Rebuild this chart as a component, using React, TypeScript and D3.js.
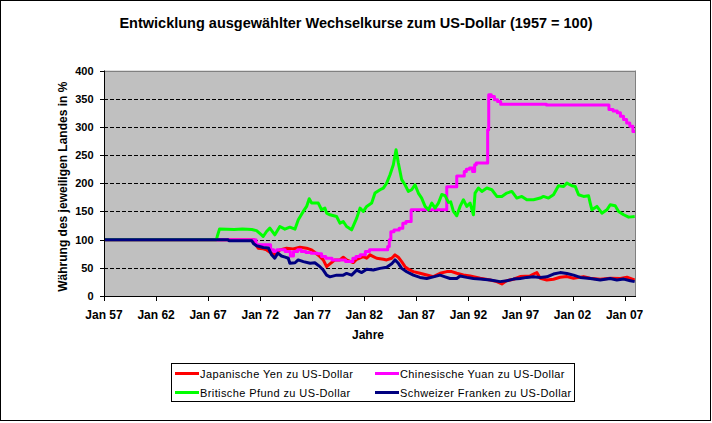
import React from "react";
import * as d3 from "d3";

const W = 712;
const H = 423;

const yTicks = [0, 50, 100, 150, 200, 250, 300, 350, 400];
const xTickYears = [1957, 1962, 1967, 1972, 1977, 1982, 1987, 1992, 1997, 2002, 2007];
const xTickLabels = ["Jan 57", "Jan 62", "Jan 67", "Jan 72", "Jan 77", "Jan 82", "Jan 87", "Jan 92", "Jan 97", "Jan 02", "Jan 07"];

const titleText = "Entwicklung ausgewählter Wechselkurse zum US-Dollar (1957 = 100)";
const xAxisTitle = "Jahre";
const yAxisTitle = "Währung des jeweiligen Landes in %";

const seriesNames = [
  "Japanische Yen zu US-Dollar",
  "Chinesische Yuan zu US-Dollar",
  "Britische Pfund zu US-Dollar",
  "Schweizer Franken zu US-Dollar",
];
const seriesColors = ["#FF0000", "#FF00FF", "#00FF00", "#000080"];

// [year, index value]
const yenData: [number, number][] = [
  [1957, 100], [1971.4, 100], [1971.5, 93.7], [1971.81, 84.8], [1972.29, 83.6], [1972.61, 81.8],
  [1973.09, 75.9], [1973.41, 72.9], [1973.89, 81.8], [1974.53, 84.8], [1975.17, 83.6], [1975.82, 86.6],
  [1976.46, 84.8], [1976.94, 81.8], [1977.26, 77.1], [1977.74, 69.9], [1978.06, 64], [1978.38, 52.1],
  [1978.7, 56.9], [1979.18, 64], [1979.66, 64], [1979.98, 68.8], [1980.3, 64], [1980.94, 59.3],
  [1981.27, 65.2], [1981.91, 69.9], [1982.23, 67], [1982.55, 72.9], [1982.87, 69.9], [1983.19, 67],
  [1983.83, 65.2], [1984.15, 64], [1984.63, 67], [1984.95, 72.9], [1985.27, 68.8], [1985.59, 61.1],
  [1985.91, 52.1], [1986.23, 47.5], [1986.71, 43.3], [1987.35, 40.3], [1988.0, 37.3], [1988.64, 34.4],
  [1989.28, 40.3], [1989.92, 43.3], [1990.4, 43.3], [1990.88, 40.3], [1991.52, 37.3], [1992.16, 35.6],
  [1993.13, 31.4], [1994.09, 28.5], [1994.73, 25.5], [1995.21, 21.4], [1995.69, 27.3], [1996.33, 29.7],
  [1996.97, 34.4], [1997.93, 35.6], [1998.41, 40.3], [1998.57, 41.5], [1998.9, 31.4], [1999.53, 28.5],
  [2000.17, 29.7], [2000.81, 33.2], [2001.46, 34.4], [2002.1, 31.4], [2003.06, 34.4], [2003.7, 31.4],
  [2004.66, 29.7], [2005.62, 31.4], [2006.59, 30.9], [2007.23, 33.2], [2007.97, 28.5],
];

const yuanData: [number, number][] = [
  [1957, 100], [1971.6, 91], [1973.0, 82], [1973.3, 79], [1973.6, 82], [1974.4, 79], [1974.9, 71],
  [1975.2, 79], [1975.6, 82], [1975.95, 79], [1976.4, 77], [1976.9, 76], [1977.5, 75], [1977.9, 70],
  [1978.3, 67], [1978.9, 64], [1980.2, 61], [1980.9, 67], [1981.2, 70], [1981.6, 73], [1982.1, 79],
  [1982.5, 82], [1984.25, 88], [1984.4, 100], [1984.55, 114], [1984.85, 117], [1985.35, 120],
  [1985.7, 129], [1986.0, 132], [1986.5, 153], [1989.92, 194], [1990.88, 213], [1991.6, 221],
  [1991.8, 225], [1992.1, 227], [1992.4, 221], [1992.6, 233], [1992.75, 236], [1993.85, 295],
  [1993.95, 357], [1994.2, 354], [1994.5, 348], [1994.8, 345], [1995.1, 340], [1999.5, 339],
  [2005.5, 331], [2005.9, 328], [2006.3, 325], [2006.6, 319], [2006.9, 313], [2007.2, 307],
  [2007.5, 301], [2007.8, 292], [2008.0, 292],
];

const poundData: [number, number][] = [
  [1957, 100], [1967.8, 100], [1967.88, 106], [1968.1, 119], [1969.5, 118], [1970.3, 119], [1971.2, 118],
  [1971.65, 116], [1972.13, 108.5], [1972.29, 105.5], [1972.61, 114.4], [1972.93, 120.4], [1973.41, 108.5],
  [1973.89, 123.3], [1974.37, 118.6], [1974.85, 122.1], [1975.34, 118.6], [1975.66, 135.2], [1976.14, 150],
  [1976.46, 158.9], [1976.71, 172.5], [1976.94, 164.8], [1977.58, 164.8], [1977.9, 153], [1978.22, 155.9],
  [1978.38, 147], [1978.7, 144], [1979.34, 141], [1979.66, 129.2], [1979.98, 132.2], [1980.3, 123.3],
  [1980.78, 117.4], [1981.27, 138.1], [1981.59, 155.9], [1981.91, 150], [1982.23, 158.9], [1982.71, 164.8],
  [1983.03, 182.6], [1983.51, 188.5], [1983.83, 191.5], [1984.15, 200.3], [1984.47, 215.2], [1984.79, 232.9],
  [1985.05, 259.6], [1985.27, 235.9], [1985.59, 206.3], [1985.91, 197.4], [1986.23, 185.5], [1986.55, 188.5],
  [1986.87, 197.4], [1987.19, 182.6], [1987.51, 173.7], [1987.84, 158.9], [1988.16, 152.9], [1988.48, 164.8],
  [1988.8, 155.9], [1989.12, 164.8], [1989.44, 180], [1989.76, 178], [1990.08, 166], [1990.3, 167],
  [1990.56, 150], [1990.88, 142.3], [1991.2, 158.9], [1991.52, 170.7], [1991.84, 158.9], [1992.16, 164.8],
  [1992.48, 144.1], [1992.64, 182.6], [1992.96, 191.5], [1993.29, 185.5], [1993.77, 191.5], [1994.25, 188.5],
  [1994.73, 176.6], [1995.21, 176.6], [1995.69, 182.6], [1996.17, 185.5], [1996.65, 173.7], [1997.13, 176.6],
  [1997.61, 170.7], [1998.25, 170.7], [1998.9, 173.7], [1999.21, 176.6], [1999.69, 173.7], [2000.17, 179.6],
  [2000.65, 195.6], [2001.14, 194.4], [2001.46, 200.3], [2001.94, 195.6], [2002.26, 194.4], [2002.58, 179.6],
  [2003.06, 176.6], [2003.54, 177.8], [2003.7, 164.8], [2003.86, 152.9], [2004.34, 158.9], [2004.82, 147],
  [2005.3, 152.9], [2005.62, 161.8], [2006.1, 160], [2006.42, 150], [2006.91, 144.1], [2007.39, 139.9],
  [2007.97, 141.1],
];

const francData: [number, number][] = [
  [1957, 100], [1968.9, 100], [1969.0, 98], [1971.2, 98], [1971.35, 93], [1971.65, 89], [1972.3, 86],
  [1972.8, 85], [1973.1, 73], [1973.4, 67], [1973.7, 76], [1974.05, 71], [1974.4, 69], [1974.7, 67],
  [1974.85, 58], [1975.35, 59], [1975.65, 64], [1976.15, 61], [1976.8, 58], [1977.25, 59], [1977.74, 52],
  [1978.06, 46], [1978.38, 37], [1978.7, 34], [1979.34, 37], [1979.98, 37], [1980.3, 40], [1980.78, 37],
  [1981.27, 46], [1981.75, 41.5], [1982.23, 47.5], [1982.87, 46], [1983.51, 49], [1984.15, 51],
  [1984.63, 57], [1984.95, 64], [1985.27, 58], [1985.59, 49], [1986.07, 43], [1986.71, 37], [1987.35, 33],
  [1988.0, 31], [1988.64, 34], [1989.28, 37], [1989.76, 34], [1990.24, 31], [1990.88, 31], [1991.2, 35.5],
  [1991.84, 33], [1992.48, 31], [1993.13, 30], [1994.09, 28.5], [1995.05, 25.5], [1995.69, 27],
  [1996.33, 30], [1996.97, 31], [1997.61, 33], [1998.25, 34], [1998.9, 33], [1999.54, 34], [2000.17, 39],
  [2000.81, 41.5], [2001.46, 40], [2002.1, 37], [2002.74, 33], [2003.7, 31], [2004.66, 28.5],
  [2005.62, 31], [2006.26, 28.5], [2006.91, 30], [2007.55, 27], [2007.97, 25.5],
];

const seriesData = [yenData, yuanData, poundData, francData];
const seriesStep = [false, true, false, false];

const PL = 104;
const PR = 635;
const PT = 70.5;
const PB = 296;

const FONT = "Arial, 'Liberation Sans', sans-serif";

export default function App() {
  const x = d3.scaleLinear().domain([1957, 2008]).range([PL, PR]);
  const y = d3.scaleLinear().domain([0, 400]).range([PB, PT]);

  const paths = seriesData.map((data, i) => {
    const gen = d3
      .line<[number, number]>()
      .x((d) => x(d[0]))
      .y((d) => y(d[1]))
      .curve(seriesStep[i] ? d3.curveStepAfter : d3.curveLinear);
    return gen(data) || "";
  });

  const legendRows = [
    { idx: 0, col: 0, row: 0 },
    { idx: 1, col: 1, row: 0 },
    { idx: 2, col: 0, row: 1 },
    { idx: 3, col: 1, row: 1 },
  ];
  const legendColX = [175, 375];
  const legendRowY = [373.5, 392.5];

  return (
    <svg
      width={W}
      height={H}
      style={{ position: "absolute", left: 0, top: 0, background: "#fff" }}
      fontFamily={FONT}
    >
      <rect x={0.5} y={0.5} width={W - 2} height={H - 3} fill="#fff" stroke="#000" strokeWidth={1} />
      <text x={356} y={27.5} textAnchor="middle" fontSize={14.5} fontWeight="bold">
        {titleText}
      </text>

      <defs>
        <clipPath id="plotclip">
          <rect x={PL} y={PT - 2} width={PR - PL} height={PB - PT + 2} />
        </clipPath>
      </defs>

      <rect x={PL} y={PT} width={PR - PL} height={PB - PT} fill="#C0C0C0" />
      {yTicks
        .filter((t) => t > 0 && t < 400)
        .map((t) => (
          <line
            key={t}
            x1={PL}
            x2={PR}
            y1={Math.round(y(t)) + 0.5}
            y2={Math.round(y(t)) + 0.5}
            stroke="#000"
            strokeWidth={1}
            strokeDasharray="4,2"
          />
        ))}
      <line x1={PL} x2={PR} y1={Math.round(PT) + 0.5} y2={Math.round(PT) + 0.5} stroke="#808080" />
      <line x1={PR + 0.5} x2={PR + 0.5} y1={PT} y2={PB} stroke="#808080" />

      <g clipPath="url(#plotclip)">
        {paths.map((p, i) => (
          <path
            key={i}
            d={p}
            fill="none"
            stroke={seriesColors[i]}
            strokeWidth={3}
            strokeLinejoin="round"
          />
        ))}
      </g>

      {/* axes */}
      <line x1={PL + 0.5} x2={PL + 0.5} y1={PT} y2={PB} stroke="#000" />
      <line x1={PL} x2={PR + 1} y1={PB + 0.5} y2={PB + 0.5} stroke="#000" />
      {yTicks.map((t) => (
        <g key={t}>
          <line x1={PL - 4} x2={PL} y1={Math.round(y(t)) + 0.5} y2={Math.round(y(t)) + 0.5} stroke="#000" />
          <text x={93.5} y={y(t) + 4} textAnchor="end" fontSize={11} fontWeight="bold">
            {t}
          </text>
        </g>
      ))}
      {xTickYears.map((yr, i) => (
        <g key={yr}>
          <line
            x1={Math.round(x(yr)) + 0.5}
            x2={Math.round(x(yr)) + 0.5}
            y1={PB}
            y2={PB + 5}
            stroke="#000"
          />
          <text x={x(yr)} y={318.5} textAnchor="middle" fontSize={12} fontWeight="bold">
            {xTickLabels[i]}
          </text>
        </g>
      ))}
      <text x={368} y={339} textAnchor="middle" fontSize={12} fontWeight="bold">
        {xAxisTitle}
      </text>
      <text
        transform={`translate(66.5, 186.7) rotate(-90)`}
        textAnchor="middle"
        fontSize={12}
        fontWeight="bold"
      >
        {yAxisTitle}
      </text>

      {/* legend */}
      <rect x={171.5} y={363.5} width={403} height={38} fill="#fff" stroke="#000" />
      {legendRows.map((r) => (
        <g key={r.idx}>
          <line
            x1={legendColX[r.col]}
            x2={legendColX[r.col] + 24}
            y1={legendRowY[r.row]}
            y2={legendRowY[r.row]}
            stroke={seriesColors[r.idx]}
            strokeWidth={3}
          />
          <text
            x={legendColX[r.col] + 25}
            y={legendRowY[r.row] + 4.5}
            fontSize={11}
            letterSpacing={0.4}
          >
            {seriesNames[r.idx]}
          </text>
        </g>
      ))}
    </svg>
  );
}
